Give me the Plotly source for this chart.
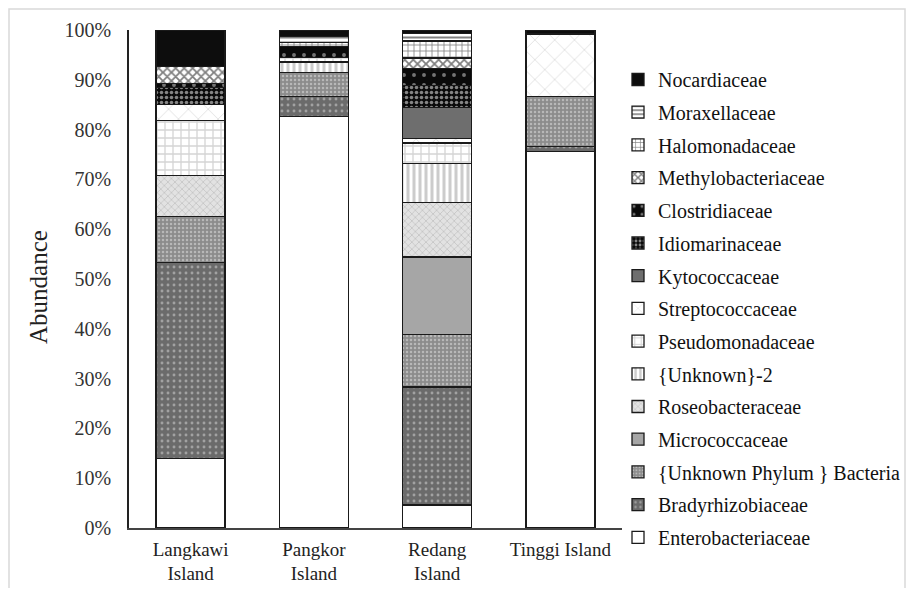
import plotly.graph_objects as go

islands = ["Langkawi<br>Island", "Pangkor<br>Island", "Redang<br>Island", "Tinggi Island"]

families = [
    "Enterobacteriaceae", "Bradyrhizobiaceae", "{Unknown Phylum } Bacteria",
    "Micrococcaceae", "Roseobacteraceae", "{Unknown}-2", "Pseudomonadaceae",
    "Streptococcaceae", "Kytococcaceae", "Idiomarinaceae", "Clostridiaceae",
    "Methylobacteriaceae", "Halomonadaceae", "Moraxellaceae", "Nocardiaceae",
]

# abundance (%) per island, order: Langkawi, Pangkor, Redang, Tinggi
enterobacteriaceae = [14.0, 82.6, 4.6, 75.6]
bradyrhizobiaceae = [39.3, 4.0, 23.7, 1.0]
unknown_phylum = [9.2, 4.8, 10.5, 10.0]
micrococcaceae = [0, 0, 15.6, 0]
roseobacteraceae = [8.3, 0, 10.9, 0]
unknown_2 = [0, 2.2, 7.9, 0]
pseudomonadaceae = [11.0, 0.9, 4.1, 0]
streptococcaceae = [3.2, 0, 0.9, 12.6]
kytococcaceae = [0, 0, 6.3, 0]
idiomarinaceae = [3.4, 0, 4.4, 0]
clostridiaceae = [0.9, 2.2, 3.3, 0]
methylobacteriaceae = [3.4, 0, 2.2, 0]
halomonadaceae = [0, 0.8, 3.4, 0]
moraxellaceae = [0, 1.2, 1.5, 0]
nocardiaceae = [7.3, 1.3, 0.7, 0.8]

series = [enterobacteriaceae, bradyrhizobiaceae, unknown_phylum, micrococcaceae,
          roseobacteraceae, unknown_2, pseudomonadaceae, streptococcaceae,
          kytococcaceae, idiomarinaceae, clostridiaceae, methylobacteriaceae,
          halomonadaceae, moraxellaceae, nocardiaceae]

# (base color, pattern shape, pattern fg, size, solidity)
styles = [
    ("#ffffff", "", None, 8, 0.3),
    ("#6b6b6b", ".", "#d9d9d9", 6, 0.18),
    ("#8c8c8c", ".", "#e3e3e3", 4, 0.3),
    ("#a6a6a6", "", None, 8, 0.3),
    ("#e2e2e2", "x", "#a8a8a8", 5, 0.3),
    ("#ffffff", "|", "#999999", 6, 0.5),
    ("#ffffff", "+", "#aaaaaa", 8, 0.3),
    ("#ffffff", "x", "#b0b0b0", 14, 0.1),
    ("#6e6e6e", "", None, 8, 0.3),
    ("#0a0a0a", ".", "#ffffff", 5, 0.4),
    ("#0a0a0a", ".", "#dddddd", 10, 0.12),
    ("#ffffff", "x", "#000000", 6, 0.5),
    ("#ffffff", "+", "#000000", 6, 0.25),
    ("#ffffff", "-", "#000000", 5, 0.4),
    ("#0d0d0d", "", None, 8, 0.3),
]

FONT = "Liberation Serif"
fig = go.Figure()
n = len(families)
for i, (name, vals, st) in enumerate(zip(families, series, styles)):
    color, shape, fg, size, sol = st
    pattern = dict(shape=shape, fillmode="overlay", size=size, solidity=sol)
    if fg:
        pattern["fgcolor"] = fg
        pattern["bgcolor"] = color
    fig.add_trace(go.Bar(
        x=islands,
        y=[v if v else None for v in vals],
        name=name,
        legendgroup=str(i),
        legendrank=100 + (n - i),
        marker=dict(color=color, line=dict(color="#1a1a1a", width=1.3), pattern=pattern),
    ))

# page has an 8px body margin: figure origin sits at (8, 8) in the screenshot
OFF = 8
W, H = 915 - 2 * OFF, 596 - 2 * OFF
PX0, PX1, PY0, PY1 = 129, 622, 30, 528   # plot area in page pixels
L, T = PX0 - OFF, PY0 - OFF
R, B = W - (PX1 - OFF), H - (PY1 - OFF)
pw, ph = PX1 - PX0, PY1 - PY0

def px_x(x):
    return (x - PX0) / pw

def px_y(y):
    return (PY1 - y) / ph

fig.update_layout(
    width=W, height=H,
    margin=dict(l=L, r=R, t=T, b=B, autoexpand=False),
    barmode="stack",
    bargap=0.44,
    plot_bgcolor="white",
    paper_bgcolor="white",
    font=dict(family=FONT, size=18, color="#222222"),
    showlegend=True,
    legend=dict(
        traceorder="grouped",
        tracegroupgap=3.7,
        x=px_x(618), xanchor="left",
        y=px_y(60), yanchor="top",
        font=dict(family=FONT, size=20, color="#111111"),
        itemwidth=30,
        bgcolor="rgba(0,0,0,0)",
    ),
    xaxis=dict(
        showline=True, linecolor="#444444", linewidth=1.5,
        ticks="", showgrid=False, automargin=False,
        tickfont=dict(family=FONT, size=19, color="#222222"),
        ticklabelstandoff=3,
    ),
    yaxis=dict(
        range=[0, 100], dtick=10, ticksuffix="%",
        showline=True, linecolor="#222222", linewidth=1.5,
        ticks="", showgrid=False, zeroline=False, automargin=False,
        tickfont=dict(family=FONT, size=20, color="#333333"),
        ticklabelstandoff=12,
    ),
    annotations=[dict(
        text="Abundance", textangle=-90,
        xref="paper", yref="paper",
        x=px_x(38), y=px_y(287),
        xanchor="center", yanchor="middle",
        showarrow=False,
        font=dict(family=FONT, size=25, color="#222222"),
    )],
    shapes=[dict(
        type="rect", xref="paper", yref="paper",
        x0=px_x(9), x1=px_x(905), y0=px_y(660), y1=px_y(9),
        line=dict(color="#d9d9d9", width=1.5), layer="below",
    )],
)

fig.write_html("out.html")
